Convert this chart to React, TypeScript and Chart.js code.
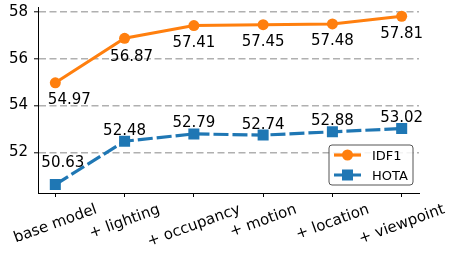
import React, { useEffect, useRef } from 'react';
import { Chart, registerables } from 'chart.js';

Chart.register(...registerables);

const categories = ['base model', '+ lighting', '+ occupancy', '+ motion', '+ location', '+ viewpoint'];
const idf1 = [54.97, 56.87, 57.41, 57.45, 57.48, 57.81];
const hota = [50.63, 52.48, 52.79, 52.74, 52.88, 53.02];
const yTickValues = [52, 54, 56, 58];
const seriesNames = ['IDF1', 'HOTA'];

const ORANGE = '#ff7f0e';
const BLUE = '#1f77b4';
const FONT = "'DejaVu Sans', sans-serif";
const BLUE_DASH = [15, 4];

// annotation offsets in px (style only)
const idf1LabelDx = [14, 7, 0, 0, 0, 0];
const idf1LabelDy = [16, 17, 16, 16, 16, 16];
const hotaLabelDx = [7.5, 0, 0, 0, 0, 0];
const hotaLabelDy = [-23, -12, -12, -12, -12, -12];

const overlay = {
  id: 'overlay',
  afterDatasetsDraw(chart: any) {
    const ctx = chart.ctx as CanvasRenderingContext2D;
    ctx.save();
    ctx.fillStyle = '#000';
    ctx.font = `15px ${FONT}`;
    ctx.textAlign = 'center';
    ctx.textBaseline = 'alphabetic';
    const cap = 0.364 * 15;
    const m0 = chart.getDatasetMeta(0);
    const m1 = chart.getDatasetMeta(1);
    m0.data.forEach((p: any, i: number) => {
      ctx.fillText(idf1[i].toFixed(2), p.x + idf1LabelDx[i], p.y + idf1LabelDy[i] + cap);
    });
    m1.data.forEach((p: any, i: number) => {
      ctx.fillText(hota[i].toFixed(2), p.x + hotaLabelDx[i], p.y + hotaLabelDy[i] + cap);
    });

    // rotated x tick labels (matplotlib-like: rotated bbox centered on tick)
    const xs = chart.scales.x;
    const bottom = chart.chartArea.bottom;
    const ang = (20 * Math.PI) / 180;
    categories.forEach((c, i) => {
      const w = ctx.measureText(c).width;
      const h = 0.968 * 15;
      const H = w * Math.sin(ang) + h * Math.cos(ang);
      const cx = xs.getPixelForValue(i);
      const cy = bottom + 9 + H / 2;
      ctx.save();
      ctx.translate(cx, cy);
      ctx.rotate(-ang);
      ctx.fillText(c, 0, 0.276 * 15);
      ctx.restore();
    });

    // legend (lower right, inside axes)
    const ca = chart.chartArea;
    const bw = 84;
    const bh = 40;
    const bx = ca.right - 6 - bw;
    const by = ca.bottom - 8 - bh;
    ctx.beginPath();
    const r = 3;
    ctx.moveTo(bx + r, by);
    ctx.arcTo(bx + bw, by, bx + bw, by + bh, r);
    ctx.arcTo(bx + bw, by + bh, bx, by + bh, r);
    ctx.arcTo(bx, by + bh, bx, by, r);
    ctx.arcTo(bx, by, bx + bw, by, r);
    ctx.closePath();
    ctx.fillStyle = 'rgba(255,255,255,0.85)';
    ctx.fill();
    ctx.strokeStyle = '#555';
    ctx.lineWidth = 1;
    ctx.stroke();

    const entries = [
      { color: ORANGE, dash: [] as number[], shape: 'circle' },
      { color: BLUE, dash: BLUE_DASH, shape: 'rect' },
    ];
    entries.forEach((e, k) => {
      const y = by + 10 + k * 20;
      const x0 = bx + 5;
      const x1 = x0 + 27;
      ctx.save();
      ctx.strokeStyle = e.color;
      ctx.lineWidth = 3.2;
      ctx.setLineDash(e.dash);
      ctx.beginPath();
      ctx.moveTo(x0, y);
      ctx.lineTo(x1, y);
      ctx.stroke();
      ctx.restore();
      ctx.fillStyle = e.color;
      const mx = (x0 + x1) / 2;
      if (e.shape === 'circle') {
        ctx.beginPath();
        ctx.arc(mx, y, 5.5, 0, Math.PI * 2);
        ctx.fill();
      } else {
        ctx.fillRect(mx - 5.5, y - 5.5, 11, 11);
      }
      ctx.fillStyle = '#000';
      ctx.font = `13px ${FONT}`;
      ctx.textAlign = 'left';
      ctx.fillText(seriesNames[k], x1 + 11, y + 0.364 * 13);
    });
    ctx.restore();
  },
};

export default function App() {
  const ref = useRef<HTMLCanvasElement>(null);
  useEffect(() => {
    const canvas = ref.current;
    if (!canvas) return;
    const chart = new Chart(canvas, {
      type: 'line',
      data: {
        datasets: [
          {
            label: seriesNames[0],
            data: categories.map((_, i) => ({ x: i, y: idf1[i] })),
            borderColor: ORANGE,
            backgroundColor: ORANGE,
            borderWidth: 3,
            pointStyle: 'circle',
            pointRadius: 5.5,
            pointBorderWidth: 0,
            pointBackgroundColor: ORANGE,
            tension: 0,
          },
          {
            label: seriesNames[1],
            data: categories.map((_, i) => ({ x: i, y: hota[i] })),
            borderColor: BLUE,
            backgroundColor: BLUE,
            borderWidth: 3.2,
            borderDash: BLUE_DASH,
            pointStyle: 'rect',
            pointRadius: 7.8,
            pointBorderWidth: 0,
            pointBackgroundColor: BLUE,
            tension: 0,
          },
        ],
      },
      options: {
        animation: false,
        responsive: false,
        devicePixelRatio: 1,
        layout: { padding: { left: 0, top: 3.4, right: 32, bottom: 0 } },
        plugins: { legend: { display: false }, tooltip: { enabled: false } },
        scales: {
          x: {
            type: 'linear',
            min: -0.25,
            max: 5.25,
            afterBuildTicks: (axis: any) => {
              axis.ticks = categories.map((_, i) => ({ value: i }));
            },
            afterFit: (s: any) => {
              s.height = 61;
              s.paddingLeft = 0;
              s.paddingRight = 0;
            },
            ticks: { display: false },
            grid: {
              display: true,
              drawOnChartArea: false,
              drawTicks: true,
              tickLength: 4,
              tickColor: '#000',
              tickWidth: 1,
            },
            border: { display: true, color: '#000', width: 1 },
          },
          y: {
            type: 'linear',
            min: 50.27,
            max: 58.17,
            afterBuildTicks: (axis: any) => {
              axis.ticks = yTickValues.map((v) => ({ value: v }));
            },
            afterFit: (s: any) => {
              s.width = 38;
              s.paddingTop = 0;
              s.paddingBottom = 0;
            },
            ticks: {
              color: '#000',
              font: { family: FONT, size: 15 },
              padding: 6,
              callback: (v: any) => String(v),
            },
            grid: {
              color: '#b0b0b0',
              lineWidth: 1.6,
              drawTicks: true,
              tickLength: 4,
              tickColor: '#000',
              tickWidth: 1,
              tickBorderDash: [],
            },
            border: { display: true, color: '#000', width: 1, dash: [7, 3.5] },
          },
        },
      },
      plugins: [overlay],
    } as any);
    return () => chart.destroy();
  }, []);
  return (
    <div style={{ position: 'absolute', left: 0, top: 0, width: 451, height: 254, background: '#fff' }}>
      <canvas ref={ref} width={451} height={254} style={{ display: 'block' }} />
    </div>
  );
}
